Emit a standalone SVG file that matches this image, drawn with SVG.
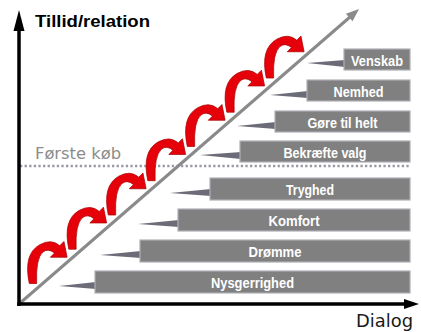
<svg xmlns="http://www.w3.org/2000/svg" width="421" height="332" viewBox="0 0 421 332">
<style>
.box{fill:#808080;stroke:#aeaeb6;stroke-width:1.2}
.spike{fill:#6c6c78}
.lbl{font-family:"Liberation Sans",Arial,sans-serif;font-weight:bold;font-size:15px;fill:#fff;text-anchor:middle}
.curl{fill:#e6000a;stroke:#a80000;stroke-width:0.7}
</style>
<defs>
<path id="curl" d="M -34,24 Q -40,-4 -24,-13 Q -13,-19 -5,-12 L -1,-16 L 2,-1 L -14,-1 L -10,-5 Q -16,-10 -21,-6 Q -28,0 -27,24 Z"/>
</defs>
<rect width="421" height="332" fill="#fff"/>

<!-- dotted first purchase line -->
<line x1="20" y1="166" x2="411" y2="166" stroke="#9a9aa4" stroke-width="2.5" stroke-dasharray="2.3,2.3"/>
<text x="35" y="159" font-family="DejaVu Sans,Verdana,sans-serif" font-size="15" fill="#8c8c8c" textLength="86" lengthAdjust="spacingAndGlyphs">Første køb</text>

<!-- nodes -->
<g id="venskab"><polygon class="spike" points="307,63 345,60 345,67"/><rect class="box" x="344" y="49" width="66" height="21"/><text class="lbl" x="377" y="66" textLength="52" lengthAdjust="spacingAndGlyphs">Venskab</text></g>
<g id="nemhed"><polygon class="spike" points="270,95 308,91 308,98"/><rect class="box" x="307" y="80" width="103" height="21"/><text class="lbl" x="358.5" y="97" textLength="50" lengthAdjust="spacingAndGlyphs">Nemhed</text></g>
<g id="gore"><polygon class="spike" points="237,126 276,122 276,129"/><rect class="box" x="275" y="111" width="135" height="21"/><text class="lbl" x="342.5" y="128" textLength="70" lengthAdjust="spacingAndGlyphs">Gøre til helt</text></g>
<g id="bekraefte"><polygon class="spike" points="200,155 241,152 241,159"/><rect class="box" x="240" y="141" width="170" height="21"/><text class="lbl" x="325" y="158" textLength="83" lengthAdjust="spacingAndGlyphs">Bekræfte valg</text></g>
<g id="tryghed"><polygon class="spike" points="170,193 211,189 211,196"/><rect class="box" x="210" y="178" width="200" height="22"/><text class="lbl" x="310" y="195" textLength="48" lengthAdjust="spacingAndGlyphs">Tryghed</text></g>
<g id="komfort"><polygon class="spike" points="138,224 179,220 179,227"/><rect class="box" x="178" y="209" width="232" height="22"/><text class="lbl" x="294" y="226" textLength="51" lengthAdjust="spacingAndGlyphs">Komfort</text></g>
<g id="dromme"><polygon class="spike" points="100,255 141,251 141,258"/><rect class="box" x="140" y="240" width="270" height="22"/><text class="lbl" x="275" y="257" textLength="53" lengthAdjust="spacingAndGlyphs">Drømme</text></g>
<g id="nysgerrighed"><polygon class="spike" points="59,286 96,282 96,289"/><rect class="box" x="95" y="271" width="315" height="22"/><text class="lbl" x="252.5" y="288" textLength="83" lengthAdjust="spacingAndGlyphs">Nysgerrighed</text></g>

<!-- curls -->
<g id="curls">
<use href="#curl" class="curl" transform="translate(65,258.3) scale(1.05)"/>
<use href="#curl" class="curl" transform="translate(104.5,224) scale(1.05)"/>
<use href="#curl" class="curl" transform="translate(144,189.8) scale(1.05)"/>
<use href="#curl" class="curl" transform="translate(183.5,155.5) scale(1.05)"/>
<use href="#curl" class="curl" transform="translate(223,121.3) scale(1.05)"/>
<use href="#curl" class="curl" transform="translate(262.5,87) scale(1.05)"/>
<use href="#curl" class="curl" transform="translate(302,52.8) scale(1.05)"/>
</g>

<!-- connectors / axes -->
<g id="connectors">
<line x1="19" y1="304" x2="350" y2="17" stroke="#8a8a8a" stroke-width="3"/>
<polygon points="359,9 352.5,21.3 345.9,13.7" fill="#8a8a8a"/>
<line x1="19" y1="306" x2="19" y2="28" stroke="#000" stroke-width="3.5"/>
<polygon points="19,10 24.5,31 13.5,31" fill="#000"/>
<line x1="17.25" y1="304" x2="407" y2="304" stroke="#000" stroke-width="3.5"/>
<polygon points="419,304 404,299 404,309" fill="#000"/>
</g>

<text x="35" y="27" font-family="Liberation Sans,Arial,sans-serif" font-weight="bold" font-size="17" fill="#000" textLength="115" lengthAdjust="spacingAndGlyphs">Tillid/relation</text>
<text x="356" y="327" font-family="DejaVu Sans,Verdana,sans-serif" font-size="18" fill="#1a1a1a" textLength="57" lengthAdjust="spacingAndGlyphs">Dialog</text>
</svg>
